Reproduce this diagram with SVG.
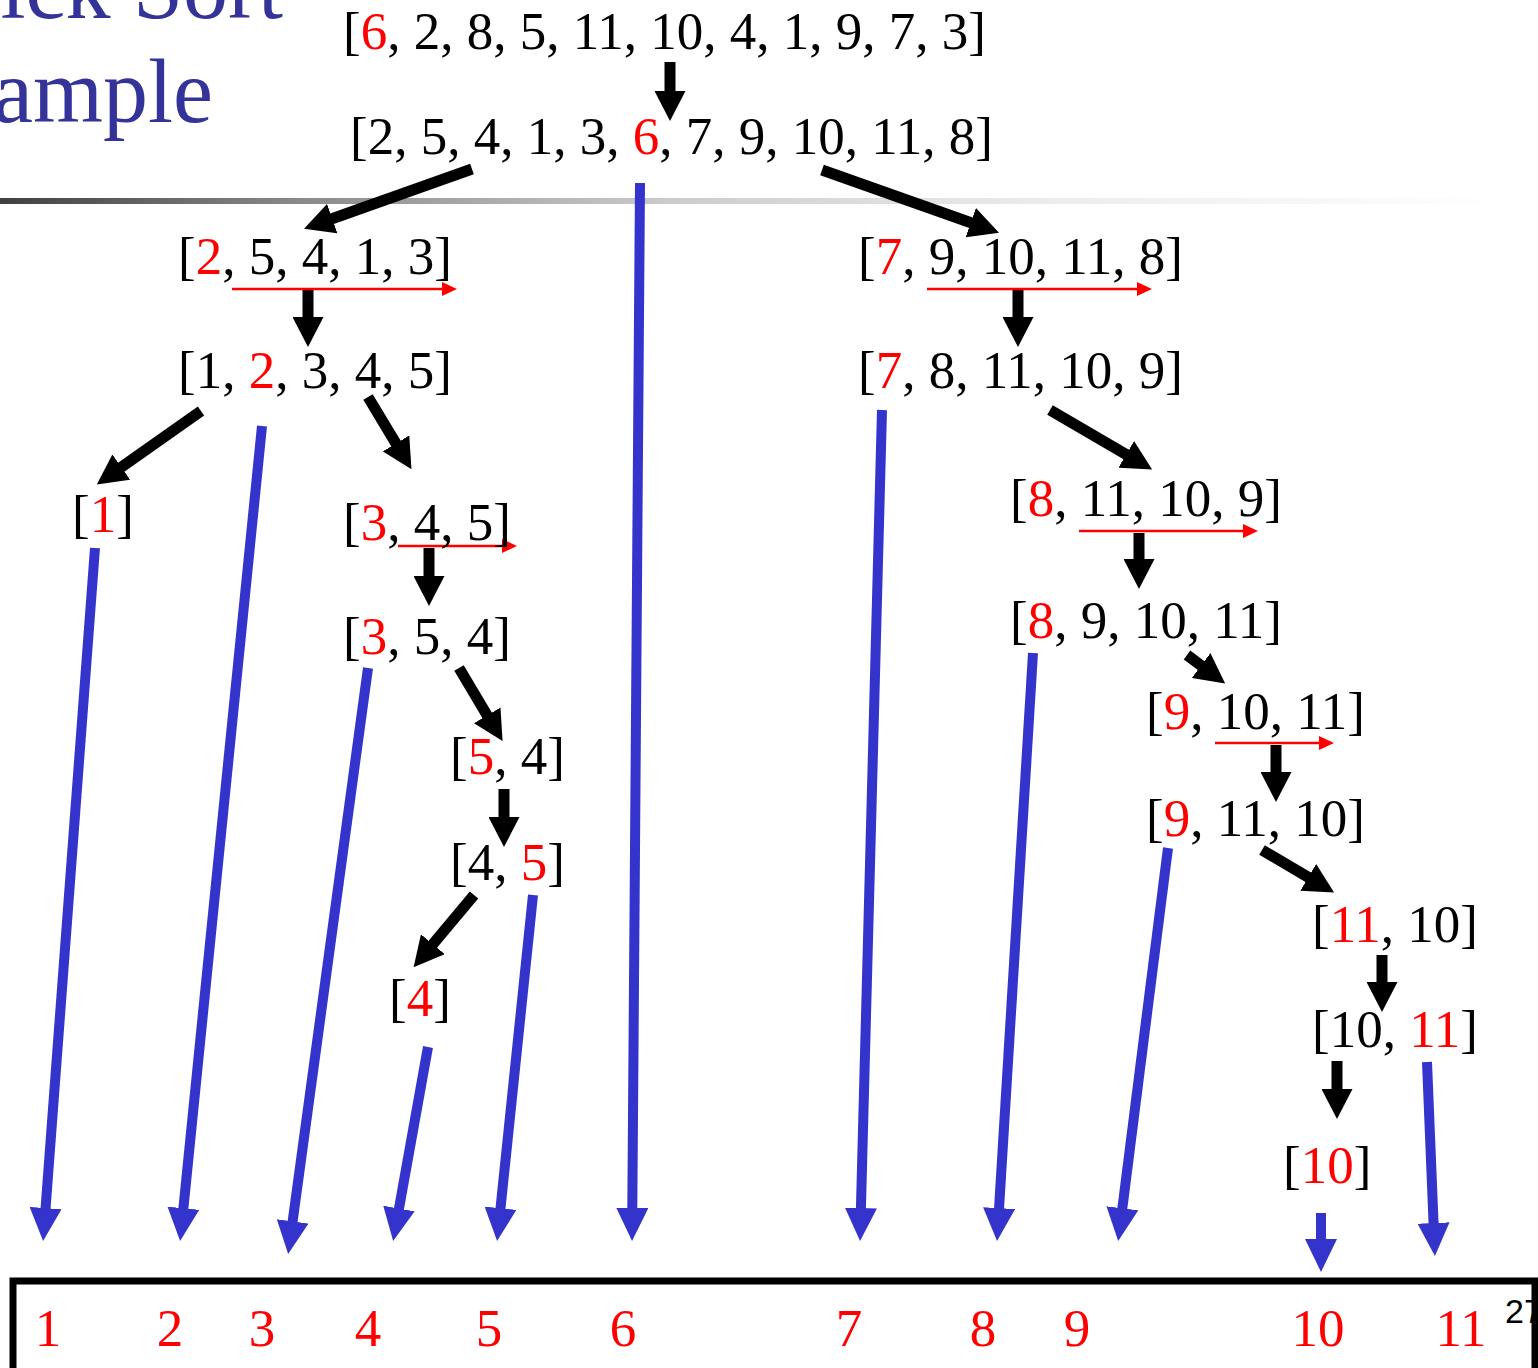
<svg xmlns="http://www.w3.org/2000/svg" width="1538" height="1368" viewBox="0 0 1538 1368">
<defs>
<linearGradient id="rule" x1="0" y1="0" x2="1" y2="0">
<stop offset="0" stop-color="#404040"/>
<stop offset="0.2" stop-color="#8a8a8a"/>
<stop offset="0.45" stop-color="#cccccc"/>
<stop offset="0.7" stop-color="#ececec"/>
<stop offset="1" stop-color="#ffffff"/>
</linearGradient>
<marker id="hk" viewBox="0 0 30 31" refX="1" refY="15.5" markerWidth="30" markerHeight="31" markerUnits="userSpaceOnUse" orient="auto"><path d="M0,0 L30,15.5 L0,31 Z" fill="#000"/></marker>
<marker id="hb" viewBox="0 0 33 32" refX="1" refY="16" markerWidth="33" markerHeight="32" markerUnits="userSpaceOnUse" orient="auto"><path d="M0,0 L33,16 L0,32 Z" fill="#3434cc"/></marker>
<marker id="hr" viewBox="0 0 15 14" refX="1" refY="7" markerWidth="15" markerHeight="14" markerUnits="userSpaceOnUse" orient="auto"><path d="M0,0 L15,7 L0,14 Z" fill="#ff0000"/></marker>
</defs>
<style>
.t{font-family:"Liberation Serif","Times New Roman",serif;font-size:53px;fill:#000}
.r{fill:#ff0000}
.title{font-family:"Liberation Serif","Times New Roman",serif;font-size:90px;fill:#333399}
.num{font-family:"Liberation Serif","Times New Roman",serif;font-size:53px;fill:#ff0000;text-anchor:middle}
.k{stroke:#000;stroke-width:11;fill:none;marker-end:url(#hk)}
.b{stroke:#3434cc;stroke-width:10;fill:none;marker-end:url(#hb)}
.rd{stroke:#ff0000;stroke-width:2.5;fill:none;marker-end:url(#hr)}
</style>
<rect width="1538" height="1368" fill="#fff"/>
<g id="title">
<text class="title" x="283" y="18" text-anchor="end">Quick Sort</text>
<text class="title" x="213" y="122" text-anchor="end">Example</text>
</g>
<rect id="rule-line" x="0" y="198" width="1500" height="6" fill="url(#rule)"/>
<g id="connectors">
<line class="k" x1="670" y1="62" x2="670" y2="92"/>
<line class="k" x1="472" y1="169" x2="331.3" y2="219"/>
<line class="k" x1="822" y1="170" x2="971.7" y2="223"/>
<line class="k" x1="308" y1="290" x2="308" y2="318"/>
<line class="k" x1="1018" y1="290" x2="1018" y2="318"/>
<line class="k" x1="201" y1="411" x2="120.5" y2="467.7"/>
<line class="k" x1="368" y1="397" x2="396.5" y2="444.3"/>
<line class="k" x1="429" y1="548" x2="429" y2="577"/>
<line class="k" x1="459" y1="668" x2="487.7" y2="716.2"/>
<line class="k" x1="504" y1="789" x2="504" y2="818"/>
<line class="k" x1="474" y1="895" x2="432.2" y2="945"/>
<line class="k" x1="1050" y1="410" x2="1127.1" y2="454.9"/>
<line class="k" x1="1139" y1="533" x2="1139" y2="560"/>
<line class="k" x1="1187" y1="655" x2="1201.9" y2="666.1"/>
<line class="k" x1="1276" y1="745" x2="1276" y2="773"/>
<line class="k" x1="1262" y1="850" x2="1309.1" y2="877.8"/>
<line class="k" x1="1382" y1="955" x2="1382" y2="983"/>
<line class="k" x1="1337" y1="1061" x2="1337" y2="1090"/>
<line class="rd" x1="232" y1="289" x2="443" y2="289"/>
<line class="rd" x1="927" y1="289" x2="1138" y2="289"/>
<line class="rd" x1="398" y1="546" x2="503" y2="546"/>
<line class="rd" x1="1079" y1="531" x2="1244" y2="531"/>
<line class="rd" x1="1215" y1="743" x2="1320" y2="743"/>
<line class="b" x1="95" y1="548" x2="45.5" y2="1209.1"/>
<line class="b" x1="262" y1="426" x2="183.3" y2="1209.2"/>
<line class="b" x1="368" y1="668" x2="292.5" y2="1222.3"/>
<line class="b" x1="428" y1="1047" x2="398.8" y2="1209.5"/>
<line class="b" x1="533" y1="895" x2="500.4" y2="1209.2"/>
<line class="b" x1="640" y1="183" x2="632.3" y2="1209"/>
<line class="b" x1="882" y1="410" x2="860.9" y2="1209"/>
<line class="b" x1="1033" y1="653" x2="999" y2="1209.1"/>
<line class="b" x1="1168" y1="848" x2="1122.2" y2="1209.3"/>
<line class="b" x1="1321" y1="1213" x2="1321" y2="1240"/>
<line class="b" x1="1427" y1="1062" x2="1433.6" y2="1224"/>
</g>
<g id="n0"><text class="t" x="343" y="49">[<tspan class="r">6</tspan>, 2, 8, 5, 11, 10, 4, 1, 9, 7, 3]</text></g>
<g id="n1"><text class="t" x="350" y="154">[2, 5, 4, 1, 3, <tspan class="r">6</tspan>, 7, 9, 10, 11, 8]</text></g>
<g id="n2"><text class="t" x="178" y="274">[<tspan class="r">2</tspan>, 5, 4, 1, 3]</text></g>
<g id="n3"><text class="t" x="858" y="274">[<tspan class="r">7</tspan>, 9, 10, 11, 8]</text></g>
<g id="n4"><text class="t" x="178" y="388">[1, <tspan class="r">2</tspan>, 3, 4, 5]</text></g>
<g id="n5"><text class="t" x="858" y="388">[<tspan class="r">7</tspan>, 8, 11, 10, 9]</text></g>
<g id="n6"><text class="t" x="72" y="532">[<tspan class="r">1</tspan>]</text></g>
<g id="n7"><text class="t" x="343" y="540">[<tspan class="r">3</tspan>, 4, 5]</text></g>
<g id="n8"><text class="t" x="1010" y="516">[<tspan class="r">8</tspan>, 11, 10, 9]</text></g>
<g id="n9"><text class="t" x="343" y="654">[<tspan class="r">3</tspan>, 5, 4]</text></g>
<g id="n10"><text class="t" x="1010" y="638">[<tspan class="r">8</tspan>, 9, 10, 11]</text></g>
<g id="n11"><text class="t" x="1146" y="729">[<tspan class="r">9</tspan>, 10, 11]</text></g>
<g id="n12"><text class="t" x="450" y="774">[<tspan class="r">5</tspan>, 4]</text></g>
<g id="n13"><text class="t" x="1146" y="836">[<tspan class="r">9</tspan>, 11, 10]</text></g>
<g id="n14"><text class="t" x="450" y="880">[4, <tspan class="r">5</tspan>]</text></g>
<g id="n15"><text class="t" x="1312" y="942">[<tspan class="r">11</tspan>, 10]</text></g>
<g id="n16"><text class="t" x="389" y="1016">[<tspan class="r">4</tspan>]</text></g>
<g id="n17"><text class="t" x="1312" y="1047">[10, <tspan class="r">11</tspan>]</text></g>
<g id="n18"><text class="t" x="1283" y="1183">[<tspan class="r">10</tspan>]</text></g>
<g id="result">
<path d="M13,1368 L13,1281 L1535,1281 L1535,1368" fill="none" stroke="#000" stroke-width="7"/>
<text class="num" x="48" y="1346">1</text>
<text class="num" x="170" y="1346">2</text>
<text class="num" x="262" y="1346">3</text>
<text class="num" x="368" y="1346">4</text>
<text class="num" x="489" y="1346">5</text>
<text class="num" x="623" y="1346">6</text>
<text class="num" x="849" y="1346">7</text>
<text class="num" x="983" y="1346">8</text>
<text class="num" x="1077" y="1346">9</text>
<text class="num" x="1318" y="1346">10</text>
<text class="num" x="1461" y="1346">11</text>
</g>
<text id="page-number" x="1505" y="1323" font-family="'Liberation Sans', Arial, sans-serif" font-size="34" fill="#000">27</text>
</svg>
